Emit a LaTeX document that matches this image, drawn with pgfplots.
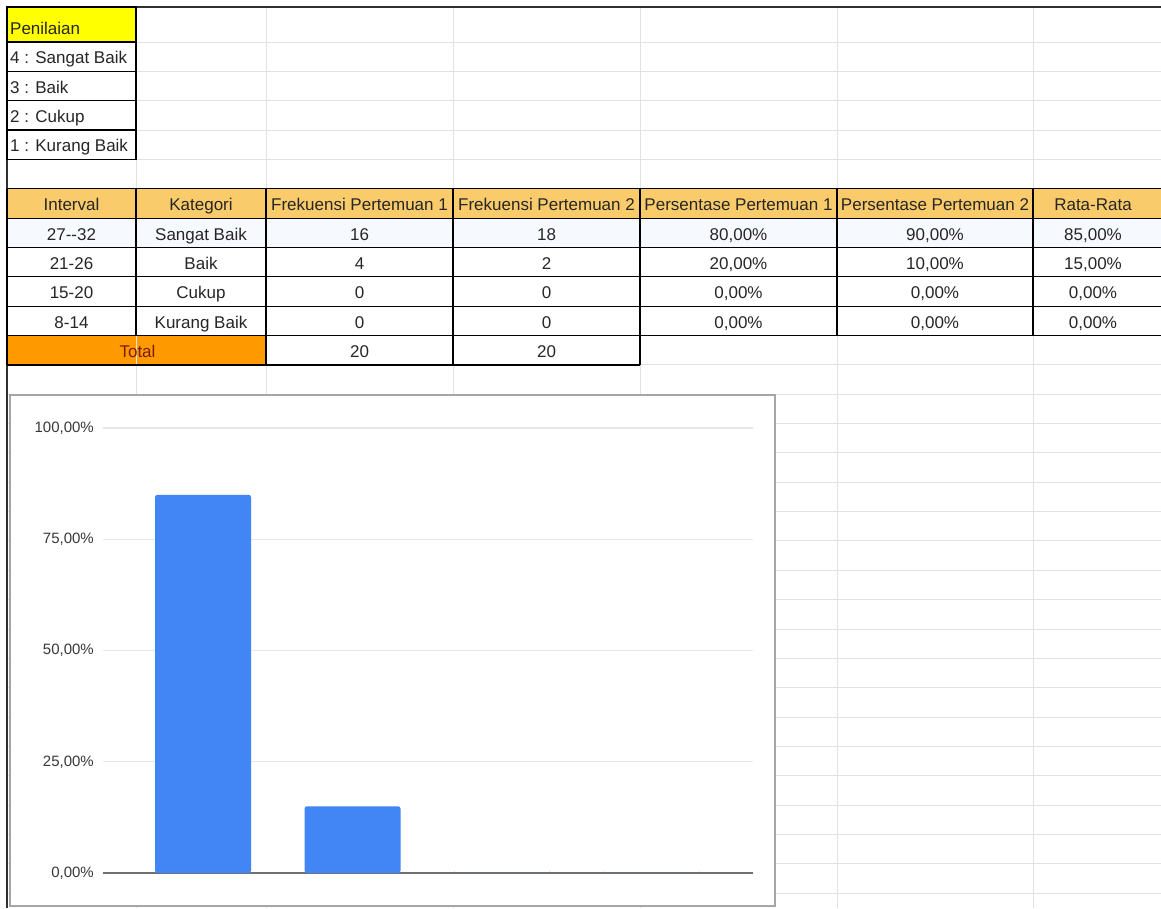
\documentclass[border=0pt]{standalone}
\usepackage{fontspec}
\setmainfont{Liberation Sans}
\usepackage{pgfplots}
\pgfplotsset{compat=1.18}
\definecolor{gridc}{HTML}{E2E2E2}
\definecolor{hdr}{HTML}{F9CB6B}
\definecolor{tot}{HTML}{FF9900}
\definecolor{yel}{HTML}{FFFF00}
\definecolor{barc}{HTML}{4285F4}
\definecolor{txt}{HTML}{262626}
\definecolor{totxt}{HTML}{7A1E00}
\definecolor{chtxt}{HTML}{383838}
\definecolor{chgrid}{HTML}{E8E8E8}
\definecolor{chbase}{HTML}{707070}
\definecolor{frame}{HTML}{303030}
\definecolor{chframe}{HTML}{A6A6A6}
\definecolor{tint}{HTML}{F6F9FD}
\newcommand\tsz{\fontsize{17}{20}\selectfont}
\newcommand\csz{\fontsize{15}{18}\selectfont}
\begin{document}
\begin{tikzpicture}
\begin{scope}[x=1pt,y=-1pt]
\path[fill=white,use as bounding box] (0,0) rectangle (1161,908);
% fills
\fill[yel] (7,7) rectangle (136,42);
\fill[hdr] (7,188.8) rectangle (1161,218.1);
\fill[tint] (7,218.1) rectangle (1161,247.5);
\fill[tot] (7,335.5) rectangle (266,364.9);
% light grid
\foreach \x in {136,266,453,640,837,1033}
  \draw[gridc,line width=1pt] (\x,7) -- (\x,908);
\foreach \i in {0,...,29}
  \draw[gridc,line width=1pt] (7,{42+29.35*\i}) -- (1161,{42+29.35*\i});
% frame
\draw[frame,line width=1.5pt] (7,908) -- (7,7) -- (1161,7);
% Penilaian box
\draw[black,line width=1.2pt] (7,7) rectangle (136,159.4);
\foreach \y in {42,71.4,100.7,130}
  \draw[black,line width=1.2pt] (7,\y) -- (136,\y);
% main table
\foreach \y in {188.8,218.1,247.5,276.8,306.2,335.5}
  \draw[black,line width=1.2pt] (7,\y) -- (1161,\y);
\foreach \x in {7,136,266,453,640,837,1033}
  \draw[black,line width=1.2pt] (\x,188.8) -- (\x,335.5);
\foreach \x in {7,266,453,640}
  \draw[black,line width=1.2pt] (\x,335.5) -- (\x,364.9);
\draw[black,line width=1.2pt] (7,364.9) -- (640,364.9);
% Penilaian texts
\begin{scope}[every node/.style={anchor=base west,inner sep=0pt,text=txt,font=\tsz}]
\node at (10,34.5) {Penilaian};
\node at (10,63.9) {4 : Sangat Baik};
\node at (10,93.2) {3 : Baik};
\node at (10,122.5) {2 : Cukup};
\node at (10,151.9) {1 : Kurang Baik};
\end{scope}
\begin{scope}[every node/.style={anchor=base,inner sep=0pt,text=txt,font=\tsz}]
% header
\node at (71.5,210.6) {Interval};
\node at (201,210.6) {Kategori};
\node at (359.5,210.6) {Frekuensi Pertemuan 1};
\node at (546.5,210.6) {Frekuensi Pertemuan 2};
\node at (738.5,210.6) {Persentase Pertemuan 1};
\node at (935,210.6) {Persentase Pertemuan 2};
\node at (1093,210.6) {Rata-Rata};
% row 1
\node at (71.5,240) {27-{}-32};
\node at (201,240) {Sangat Baik};
\node at (359.5,240) {16};
\node at (546.5,240) {18};
\node at (738.5,240) {80,00\%};
\node at (935,240) {90,00\%};
\node at (1093,240) {85,00\%};
% row 2
\node at (71.5,269.3) {21-26};
\node at (201,269.3) {Baik};
\node at (359.5,269.3) {4};
\node at (546.5,269.3) {2};
\node at (738.5,269.3) {20,00\%};
\node at (935,269.3) {10,00\%};
\node at (1093,269.3) {15,00\%};
% row 3
\node at (71.5,298.7) {15-20};
\node at (201,298.7) {Cukup};
\node at (359.5,298.7) {0};
\node at (546.5,298.7) {0};
\node at (738.5,298.7) {0,00\%};
\node at (935,298.7) {0,00\%};
\node at (1093,298.7) {0,00\%};
% row 4
\node at (71.5,328) {8-14};
\node at (201,328) {Kurang Baik};
\node at (359.5,328) {0};
\node at (546.5,328) {0};
\node at (738.5,328) {0,00\%};
\node at (935,328) {0,00\%};
\node at (1093,328) {0,00\%};
% total
\node[text=totxt] at (137.5,357.4) {Total};
\node at (359.5,357.4) {20};
\node at (546.5,357.4) {20};
\end{scope}
% chart box
\draw[fill=white,draw=chframe,line width=1.2pt] (10,395) rectangle (775,906);
\end{scope}
\begin{axis}[
  at={(103pt,-873pt)}, anchor=south west,
  scale only axis, width=650pt, height=445pt,
  xmin=-0.669, xmax=3.679, ymin=0, ymax=100,
  axis line style={draw=none},
  xtick=\empty,
  ytick={0,25,50,75,100},
  yticklabels={{0,00\%},{25,00\%},{50,00\%},{75,00\%},{100,00\%}},
  major tick length=0pt,
  ymajorgrids,
  grid style={draw=chgrid,line width=1.2pt},
  extra y ticks={0}, extra y tick labels={},
  extra y tick style={grid style={draw=chbase,line width=1.5pt}},
  yticklabel style={font=\csz,text=chtxt,inner sep=0pt,anchor=east,xshift=-9pt},
  clip=false,
]
\addplot[ybar, bar width=96pt, fill=barc, draw=none, rounded corners=2.5pt] coordinates {(0,85) (1,15) (2,0) (3,0)};
\end{axis}
\end{tikzpicture}
\end{document}
